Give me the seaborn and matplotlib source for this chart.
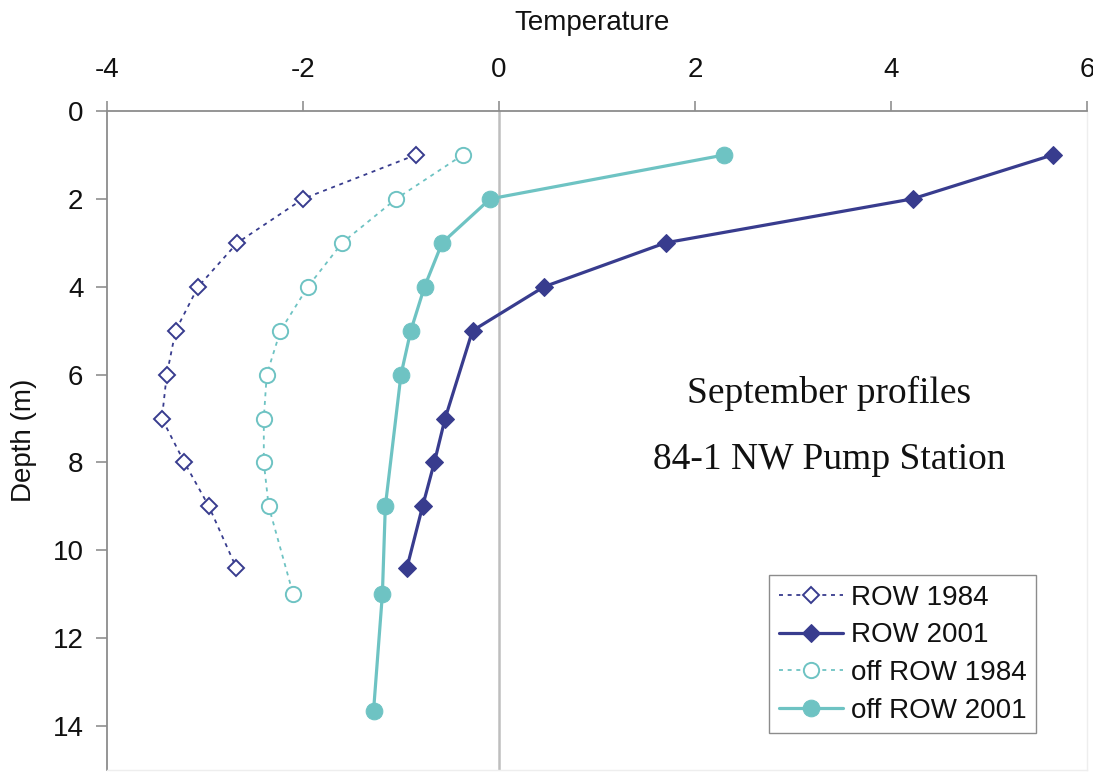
import matplotlib
matplotlib.use("Agg")
import matplotlib.pyplot as plt
import seaborn as sns
import pandas as pd

# ---- data ----
row1984_depth = [1, 2, 3, 4, 5, 6, 7, 8, 9, 10.4]
row1984_temp = [-0.85, -2.0, -2.67, -3.07, -3.30, -3.39, -3.44, -3.21, -2.96, -2.68]

row2001_depth = [1, 2, 3, 4, 5, 7, 8, 9, 10.4]
row2001_temp = [5.65, 4.22, 1.70, 0.46, -0.27, -0.55, -0.66, -0.78, -0.94]

off1984_depth = [1, 2, 3, 4, 5, 6, 7, 8, 9, 11]
off1984_temp = [-0.37, -1.05, -1.60, -1.95, -2.23, -2.37, -2.40, -2.40, -2.35, -2.10]

off2001_depth = [1, 2, 3, 4, 5, 6, 9, 11, 13.65]
off2001_temp = [2.30, -0.09, -0.58, -0.76, -0.90, -1.00, -1.16, -1.19, -1.28]

series_names = ["ROW 1984", "ROW 2001", "off ROW 1984", "off ROW 2001"]
x_ticks = [-4, -2, 0, 2, 4, 6]
y_ticks = [0, 2, 4, 6, 8, 10, 12, 14]

NAVY = "#383C8E"
TEAL = "#6EC3C3"

sns.set_theme(style="white")
plt.rcParams["font.family"] = ["Liberation Sans", "DejaVu Sans"]

fig = plt.figure(figsize=(10.93, 7.77), dpi=100)
ax = fig.add_axes([107 / 1093, 1 - 770 / 777, (1087 - 107) / 1093, (770 - 111) / 777])

frames = {
    "ROW 1984": (row1984_temp, row1984_depth),
    "ROW 2001": (row2001_temp, row2001_depth),
    "off ROW 1984": (off1984_temp, off1984_depth),
    "off ROW 2001": (off2001_temp, off2001_depth),
}
styles = {
    "ROW 1984": dict(color=NAVY, linestyle=(0, (2.2, 2.6)), linewidth=1.3, marker="D",
                     markersize=8.5, markerfacecolor="white", markeredgecolor=NAVY, markeredgewidth=1.4),
    "ROW 2001": dict(color=NAVY, linestyle="-", linewidth=2.3, marker="D",
                     markersize=9, markerfacecolor=NAVY, markeredgecolor=NAVY),
    "off ROW 1984": dict(color=TEAL, linestyle=(0, (2.2, 2.6)), linewidth=1.3, marker="o",
                         markersize=11, markerfacecolor="white", markeredgecolor=TEAL, markeredgewidth=1.4),
    "off ROW 2001": dict(color=TEAL, linestyle="-", linewidth=2.3, marker="o",
                         markersize=12, markerfacecolor=TEAL, markeredgecolor=TEAL),
}

ax.axvline(0, color="#BEBEBE", linewidth=1.8, zorder=1)

for name in series_names:
    t, d = frames[name]
    df = pd.DataFrame({"Temperature": t, "Depth": d})
    sns.lineplot(data=df, x="Temperature", y="Depth", sort=False, estimator=None,
                 ax=ax, label=name, zorder=3, **styles[name])

ax.set_xlim(-4, 6)
ax.set_ylim(15, 0)
ax.set_xticks(x_ticks)
ax.set_yticks(y_ticks)
ax.set_xticklabels([str(v) for v in x_ticks])
ax.set_yticklabels([str(v) for v in y_ticks])
ax.xaxis.tick_top()
ax.tick_params(axis="x", which="both", direction="out", length=7, width=1.2, color="#909090",
               pad=13, labelsize=20, labelcolor="#111111", top=True, bottom=False)
ax.tick_params(axis="y", which="both", direction="out", length=8, width=1.2, color="#909090",
               pad=9, labelsize=20, labelcolor="#111111", left=True)
ax.set_xlabel("")
ax.set_ylabel("")

for s in ["top", "left"]:
    ax.spines[s].set_color("#8C8C8C")
    ax.spines[s].set_linewidth(1.3)
for s in ["right", "bottom"]:
    ax.spines[s].set_color("#EEEEEE")
    ax.spines[s].set_linewidth(1.0)

fig.text(592 / 1093, 1 - 30 / 777, "Temperature", ha="center", va="baseline", fontsize=20, color="#111111")
fig.text(24 / 1093, 1 - 440 / 777, "Depth (m)", ha="center", va="center", rotation=90,
         fontsize=20, color="#111111")

serif = ["Liberation Serif", "DejaVu Serif"]
fig.text(829 / 1093, 1 - 403 / 777, "September profiles", ha="center", va="baseline",
         fontsize=27, family=serif, color="#111111")
fig.text(829 / 1093, 1 - 469 / 777, "84-1 NW Pump Station", ha="center", va="baseline",
         fontsize=27, family=serif, color="#111111")

leg = ax.legend(loc="upper left", bbox_to_anchor=(769 / 1093, 1 - 575 / 777),
                bbox_transform=fig.transFigure, fontsize=20, frameon=True, fancybox=False,
                edgecolor="#8C8C8C", framealpha=1, borderpad=0.35, labelspacing=0.42,
                handlelength=2.3, handletextpad=0.3, borderaxespad=0)
leg.get_frame().set_linewidth(1.0)
for txt in leg.get_texts():
    txt.set_color("#111111")

fig.savefig("out.png", dpi=100)
